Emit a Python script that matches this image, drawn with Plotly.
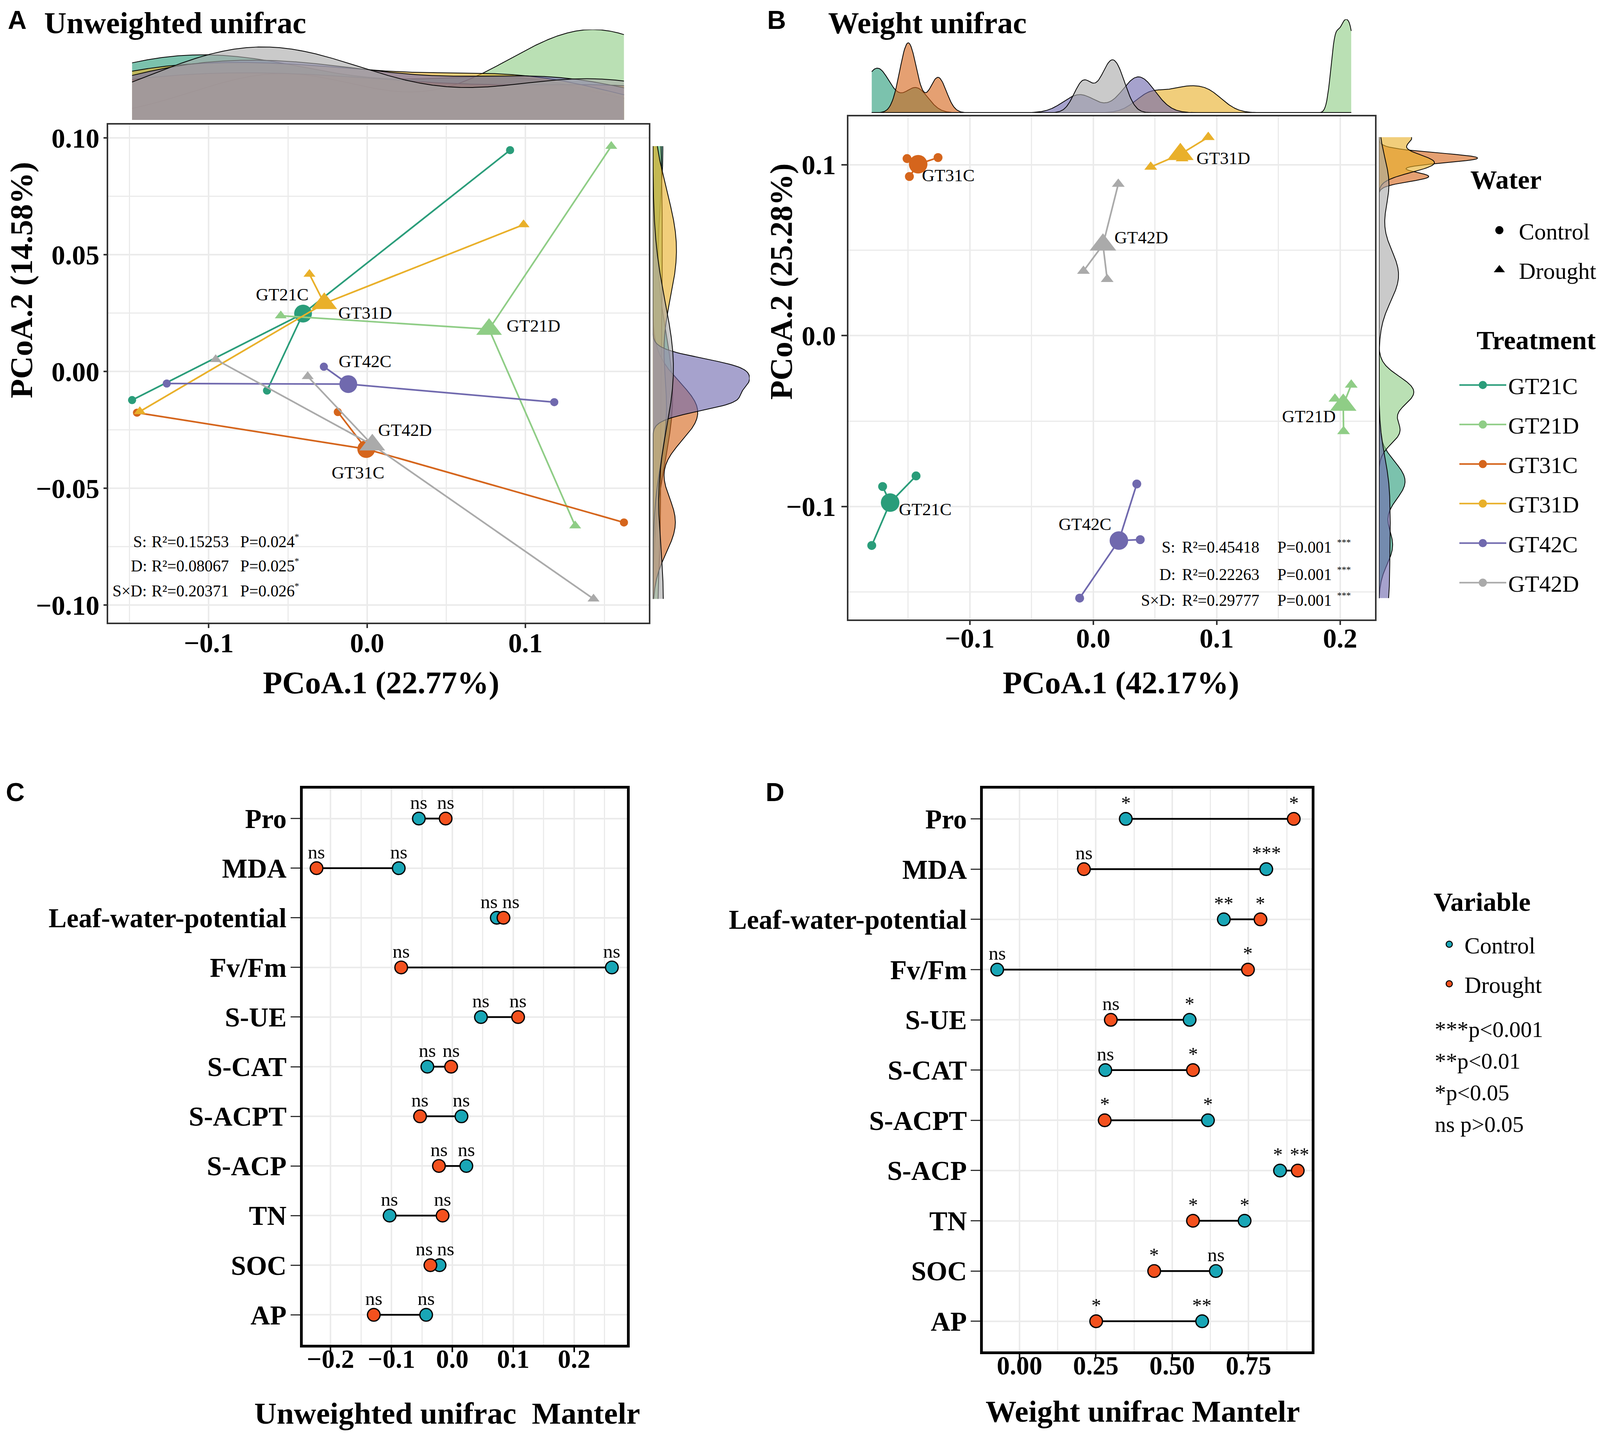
import numpy as np
import pandas as pd
import plotly.graph_objects as go

# ------------------------------------------------------------------ data
groups = ["GT21C", "GT21D", "GT31C", "GT31D", "GT42C", "GT42D"]
group_water = ["Control", "Drought", "Control", "Drought", "Control", "Drought"]
group_colors = ["#2A9D7A", "#8FCD86", "#D5651C", "#E9B02A", "#7069AE", "#AAAAAA"]

sample_group = ["GT21C", "GT21C", "GT21C", "GT21D", "GT21D", "GT21D",
                "GT31C", "GT31C", "GT31C", "GT31D", "GT31D", "GT31D",
                "GT42C", "GT42C", "GT42C", "GT42D", "GT42D", "GT42D"]

# Panel A - unweighted UniFrac PCoA sample scores
unw_pc1 = [0.0903, -0.1484, -0.0632, 0.1542, -0.0545, 0.1314,
           -0.1453, -0.0185, 0.1622, -0.0364, 0.0988, -0.1435,
           -0.0273, -0.1265, 0.1182, -0.0956, -0.0375, 0.1430]
unw_pc2 = [0.0948, -0.0122, -0.0081, 0.0965, 0.0239, -0.0660,
           -0.0176, -0.0173, -0.0646, 0.0417, 0.0629, -0.0171,
           0.0021, -0.0051, -0.0131, 0.0052, -0.0021, -0.0973]
unw_axis_var = ["22.77%", "14.58%"]
unw_terms = ["S:", "D:", "S×D:"]
unw_r2 = ["0.15253", "0.08067", "0.20371"]
unw_p = ["0.024", "0.025", "0.026"]
unw_p_sig = ["*", "*", "*"]

# Panel B - weighted UniFrac PCoA sample scores
w_pc1 = [-0.1706, -0.1435, -0.1794, 0.2090, 0.1958, 0.2028,
         -0.1508, -0.1257, -0.1489, 0.0466, 0.0932, 0.0720,
         0.0353, 0.0381, -0.0110, 0.0203, -0.0079, 0.0113]
w_pc2 = [-0.0883, -0.0821, -0.1228, -0.0288, -0.0370, -0.0560,
         0.1036, 0.1042, 0.0931, 0.0987, 0.1161, 0.1036,
         -0.0868, -0.1194, -0.1536, 0.0887, 0.0378, 0.0330]
w_axis_var = ["42.17%", "25.28%"]
w_terms = ["S:", "D:", "S×D:"]
w_r2 = ["0.45418", "0.22263", "0.29777"]
w_p = ["0.001", "0.001", "0.001"]
w_p_sig = ["***", "***", "***"]

# Panels C / D - Mantel r
mantel_vars = ["Pro", "MDA", "Leaf-water-potential", "Fv/Fm", "S-UE", "S-CAT",
               "S-ACPT", "S-ACP", "TN", "SOC", "AP"]
unw_ctrl_r = [-0.055, -0.088, 0.073, 0.262, 0.047, -0.041, 0.015, 0.023, -0.103, -0.021, -0.043]
unw_drought_r = [-0.011, -0.223, 0.084, -0.084, 0.108, -0.002, -0.053, -0.022, -0.016, -0.036, -0.129]
unw_ctrl_sig = ["ns"] * 11
unw_drought_sig = ["ns"] * 11
w_ctrl_r = [0.348, 0.808, 0.669, -0.073, 0.557, 0.281, 0.617, 0.853, 0.737, 0.643, 0.598]
w_drought_r = [0.898, 0.211, 0.789, 0.748, 0.299, 0.568, 0.279, 0.911, 0.568, 0.441, 0.251]
w_ctrl_sig = ["*", "***", "**", "ns", "*", "ns", "*", "*", "*", "ns", "**"]
w_drought_sig = ["*", "ns", "*", "*", "ns", "*", "*", "**", "*", "*", "*"]
variable_names = ["Control", "Drought"]
variable_colors = ["#19A6B6", "#F4511E"]
p_key = ["***p&lt;0.001", "**p&lt;0.01", "*p&lt;0.05", "ns p&gt;0.05"]

# ------------------------------------------------------------------ helpers
# the browser viewport is 4096 px wide; keep the whole figure inside it
W, H = 4088, 3666
SX, SY = 1568.0, 1266.0   # reference grid used for placement
FS = 0.9                  # font scale for the narrower canvas
MS = 0.95                 # marker / line scale


def px(v):
    return v / SX


def py(v):
    return 1 - v / SY


def f(s):
    return round(s * FS, 1)


SERIF = "Liberation Serif"
SANS = "Liberation Sans"


def rgba(hexc, a):
    h = hexc.lstrip("#")
    return "rgba(%d,%d,%d,%.2f)" % (int(h[0:2], 16), int(h[2:4], 16), int(h[4:6], 16), a)


def bw_nrd0(v):
    v = np.asarray(v, float)
    sd = v.std(ddof=1)
    q1, q3 = np.percentile(v, [25, 75])
    lo = min(sd, (q3 - q1) / 1.34)
    if lo <= 0:
        lo = sd if sd > 0 else 1.0
    return 0.9 * lo * len(v) ** -0.2


def kde(v, grid):
    v = np.asarray(v, float)
    bw = bw_nrd0(v)
    z = (grid[:, None] - v[None, :]) / bw
    return np.exp(-0.5 * z ** 2).sum(axis=1) / (len(v) * bw * np.sqrt(2 * np.pi))


fig = go.Figure()


def add_pcoa(pc1, pc2, ax, ay, ax_top, ay_top, ax_r, ay_r, sizes):
    df = pd.DataFrame({"group": sample_group, "pc1": pc1, "pc2": pc2})
    cen = df.groupby("group", sort=False)[["pc1", "pc2"]].mean()
    small_c, big_c, small_t, big_t = [s * MS for s in sizes]
    for g, wtr, col in zip(groups, group_water, group_colors):
        sub = df[df.group == g]
        cx, cy = cen.loc[g, "pc1"], cen.loc[g, "pc2"]
        sx, sy = [], []
        for x, y in zip(sub.pc1, sub.pc2):
            sx += [cx, x, None]
            sy += [cy, y, None]
        fig.add_trace(go.Scatter(x=sx, y=sy, mode="lines", line=dict(color=col, width=4.2),
                                 xaxis=ax, yaxis=ay, showlegend=False, hoverinfo="skip"))
        ctrl = wtr == "Control"
        sym = "circle" if ctrl else "triangle-up"
        fig.add_trace(go.Scatter(x=sub.pc1, y=sub.pc2, mode="markers",
                                 marker=dict(symbol=sym, color=col, size=small_c if ctrl else small_t, line=dict(width=0)),
                                 xaxis=ax, yaxis=ay, showlegend=False))
        fig.add_trace(go.Scatter(x=[cx], y=[cy], mode="markers",
                                 marker=dict(symbol=sym, color=col, size=big_c if ctrl else big_t, line=dict(width=0)),
                                 xaxis=ax, yaxis=ay, showlegend=False))
    gx = np.linspace(df.pc1.min(), df.pc1.max(), 512)
    gy = np.linspace(df.pc2.min(), df.pc2.max(), 512)
    mx = my = 0.0
    for g, col in zip(groups, group_colors):
        sub = df[df.group == g]
        dx = kde(sub.pc1.values, gx)
        dy = kde(sub.pc2.values, gy)
        mx, my = max(mx, dx.max()), max(my, dy.max())
        fig.add_trace(go.Scatter(x=gx, y=dx, mode="lines", fill="tozeroy", fillcolor=rgba(col, 0.62),
                                 line=dict(color="black", width=2), xaxis=ax_top, yaxis=ay_top,
                                 showlegend=False, hoverinfo="skip"))
        fig.add_trace(go.Scatter(x=dy, y=gy, mode="lines", fill="tozerox", fillcolor=rgba(col, 0.62),
                                 line=dict(color="black", width=2), xaxis=ax_r, yaxis=ay_r,
                                 showlegend=False, hoverinfo="skip"))
    return cen, mx, my


cenA, mxA, myA = add_pcoa(unw_pc1, unw_pc2, "x", "y", "x2", "y2", "x3", "y3", (22, 48, 28, 60))
cenB, mxB, myB = add_pcoa(w_pc1, w_pc2, "x4", "y4", "x5", "y5", "x6", "y6", (24, 50, 30, 62))

ann = []


def add_mantel(ctrl, drought, csig, dsig, ax, ay, xdom, xrng):
    sx, sy = [], []
    for v, c, d in zip(mantel_vars, ctrl, drought):
        sx += [c, d, None]
        sy += [v, v, None]
    fig.add_trace(go.Scatter(x=sx, y=sy, mode="lines", line=dict(color="black", width=4.5),
                             xaxis=ax, yaxis=ay, showlegend=False, hoverinfo="skip"))
    for vals, col in zip([ctrl, drought], variable_colors):
        fig.add_trace(go.Scatter(x=vals, y=mantel_vars, mode="markers",
                                 marker=dict(symbol="circle", size=34 * MS, color=col,
                                             line=dict(color="black", width=3.2)),
                                 xaxis=ax, yaxis=ay, showlegend=False))
    # significance labels above the points, pushed apart when they would collide
    ppu = (xdom[1] - xdom[0]) * W / (xrng[1] - xrng[0])
    sep = 62 * FS
    for v, c, d, cs, ds in zip(mantel_vars, ctrl, drought, csig, dsig):
        gap = abs(c - d) * ppu
        push = max(0.0, (sep - gap) / 2)
        for val, s, other in [(c, cs, d), (d, ds, c)]:
            sh = -push if val <= other else push
            ann.append(dict(x=val, y=v, xref=ax, yref=ay, text=s, showarrow=False,
                            xanchor="center", yanchor="bottom", xshift=sh, yshift=12,
                            font=dict(family=SERIF, size=f(55), color="black")))


C_xd = [px(294), px(612.5)]
D_xd = [px(962), px(1285)]
C_xr = [-0.246, 0.2867]
D_xr = [-0.12, 0.957]
add_mantel(unw_ctrl_r, unw_drought_r, unw_ctrl_sig, unw_drought_sig, "x7", "y7", C_xd, C_xr)
add_mantel(w_ctrl_r, w_drought_r, w_ctrl_sig, w_drought_sig, "x8", "y8", D_xd, D_xr)

# legend entries (marker outline in the fill colour makes the legend keys larger)
for nm, sym in zip(["Control", "Drought"], ["circle", "triangle-up"]):
    fig.add_trace(go.Scatter(x=[None], y=[None], mode="markers", name=nm, legendgroup="w" + nm,
                             marker=dict(symbol=sym, color="black", size=16, line=dict(color="black", width=5)),
                             xaxis="x4", yaxis="y4", legend="legend"))
for g, col in zip(groups, group_colors):
    fig.add_trace(go.Scatter(x=[None], y=[None], mode="lines+markers", name=g, legendgroup="t" + g,
                             line=dict(color=col, width=4),
                             marker=dict(symbol="circle", color=col, size=16, line=dict(color=col, width=5)),
                             xaxis="x4", yaxis="y4", legend="legend2"))
for nm, col in zip(variable_names, variable_colors):
    fig.add_trace(go.Scatter(x=[None], y=[None], mode="markers", name=nm, legendgroup="v" + nm,
                             marker=dict(symbol="circle", color=col, size=16, line=dict(color="black", width=2.5)),
                             xaxis="x8", yaxis="y8", legend="legend3"))

# ------------------------------------------------------------------ axes
GRID = "#EBEBEB"
tick_ab = dict(family=SERIF, size=f(78), color="black", weight="bold")


def main_axis(domain, rng, dtick, minor, fmt, anchor, lw=4, lc="#333333", ticklen=10, standoff=0):
    return dict(domain=domain, range=rng, dtick=dtick, tick0=0, tickformat=fmt, anchor=anchor,
                showgrid=True, gridcolor=GRID, gridwidth=4, zeroline=False,
                minor=dict(dtick=minor, tick0=0, showgrid=True, gridcolor=GRID, gridwidth=2.5),
                showline=True, mirror=True, linecolor=lc, linewidth=lw,
                ticks="outside", ticklen=ticklen, tickwidth=4, tickcolor="#333333",
                ticklabelstandoff=standoff, tickfont=tick_ab)


hidden = dict(visible=False, showgrid=False, zeroline=False)

A_xd = [px(103), px(634)]
A_yd = [py(547), py(106)]
B_xd = [px(830), px(1347)]
B_yd = [py(544), py(99)]

layout_axes = dict(
    xaxis=main_axis(A_xd, [-0.1636, 0.1779], 0.1, 0.05, ".1f", "y", standoff=-22),
    yaxis=main_axis(A_yd, [-0.1075, 0.1058], 0.05, 0.025, ".2f", "x", ticklen=8, standoff=-4),
    xaxis2=dict(hidden, domain=A_xd, matches="x", anchor="y2"),
    yaxis2=dict(hidden, domain=[py(102), py(22)], range=[0, mxA], anchor="x2"),
    xaxis3=dict(hidden, domain=[px(638), px(733)], range=[0, myA], anchor="y3"),
    yaxis3=dict(hidden, domain=A_yd, matches="y", anchor="x3"),
    xaxis4=main_axis(B_xd, [-0.1983, 0.2282], 0.1, 0.05, ".1f", "y4", standoff=-26),
    yaxis4=main_axis(B_yd, [-0.166, 0.1282], 0.1, 0.05, ".1f", "x4", ticklen=14),
    xaxis5=dict(hidden, domain=B_xd, matches="x4", anchor="y5"),
    yaxis5=dict(hidden, domain=[py(95.6), py(13)], range=[0, mxB], anchor="x5"),
    xaxis6=dict(hidden, domain=[px(1351), px(1448)], range=[0, myB], anchor="y6"),
    yaxis6=dict(hidden, domain=B_yd, matches="y4", anchor="x6"),
)

tick_cd_x = dict(family=SERIF, size=f(74), color="black", weight="bold")
tick_cd_y = dict(family=SERIF, size=f(77), color="black", weight="bold")


def mantel_x(domain, rng, dtick, minor, fmt, anchor):
    d = main_axis(domain, rng, dtick, minor, fmt, anchor, lw=7, lc="black", ticklen=12, standoff=-40)
    d.update(tickfont=tick_cd_x, tickcolor="black")
    return d


def mantel_y(domain, anchor):
    return dict(domain=domain, type="category", categoryorder="array", categoryarray=mantel_vars,
                range=[10.6, -0.6], anchor=anchor, showgrid=True, gridcolor=GRID, gridwidth=4,
                showline=True, mirror=True, linecolor="black", linewidth=7, zeroline=False,
                ticks="outside", ticklen=24, tickwidth=3, tickcolor="#333333",
                ticklabelstandoff=-4, tickfont=tick_cd_y)


layout_axes.update(
    xaxis7=mantel_x(C_xd, C_xr, 0.1, 0.05, ".1f", "y7"),
    yaxis7=mantel_y([py(1186), py(694)], "x7"),
    xaxis8=mantel_x(D_xd, D_xr, 0.25, 0.125, ".2f", "y8"),
    yaxis8=mantel_y([py(1192), py(694)], "x8"),
)

# ------------------------------------------------------------------ annotations


def text(x, y, t, size, family=SERIF, bold=False, xanchor="center", yanchor="middle", angle=0, **kw):
    a = dict(x=x, y=y, xref="paper", yref="paper", text=t, showarrow=False, xanchor=xanchor,
             yanchor=yanchor, textangle=angle,
             font=dict(family=family, size=f(size), color="black", weight="bold" if bold else "normal"))
    a.update(kw)
    ann.append(a)


# panel letters and titles (kept just inside the top edge)
text(px(4), 1.0, "A", 74, SANS, True, xanchor="left", yanchor="top")
text(px(39.5), 1.0, "Unweighted unifrac", 88, SERIF, True, xanchor="left", yanchor="top")
text(px(749.5), 1.0, "B", 74, SANS, True, xanchor="left", yanchor="top")
text(px(809.5), 1.0, "Weight unifrac", 88, SERIF, True, xanchor="left", yanchor="top")
text(px(2), py(697), "C", 74, SANS, True, xanchor="left")
text(px(748), py(697), "D", 74, SANS, True, xanchor="left")

# axis titles
text(px(371), py(600), "PCoA.1 (%s)" % unw_axis_var[0], 90, SERIF, True)
text(0.0, py(244), "PCoA.2 (%s)" % unw_axis_var[1], 90, SERIF, True, xanchor="left", angle=-90)
text(px(1097.6), py(600), "PCoA.1 (%s)" % w_axis_var[0], 90, SERIF, True)
text(px(764), py(245), "PCoA.2 (%s)" % w_axis_var[1], 90, SERIF, True, angle=-90)
text(px(436), py(1246.5), "Unweighted unifrac\u00a0 Mantelr", 88, SERIF, True)
text(px(1119), py(1245), "Weight unifrac Mantelr", 88, SERIF, True)

# group labels beside centroids
offA = {"GT21C": (-59, 49), "GT21D": (126, 9), "GT31C": (-23, -60),
        "GT31D": (116, -24), "GT42C": (48, 58), "GT42D": (93, 38)}
offB = {"GT21C": (100, -17), "GT21D": (-98, -29), "GT31C": (86, -29),
        "GT31D": (122, -10), "GT42C": (-96, 42), "GT42D": (109, 19)}
for cen, off, xr, yr in [(cenA, offA, "x", "y"), (cenB, offB, "x4", "y4")]:
    for g in groups:
        ann.append(dict(x=cen.loc[g, "pc1"], y=cen.loc[g, "pc2"], xref=xr, yref=yr, text=g,
                        showarrow=False, xshift=off[g][0] * 0.9, yshift=off[g][1],
                        font=dict(family=SERIF, size=f(50), color="black")))

# PERMANOVA statistics (superscripts as Unicode / small raised text)
for i, yv in enumerate([475.5, 496.7, 519]):
    text(px(142), py(yv), unw_terms[i], 46, xanchor="right")
    text(px(145), py(yv), "R\u00b2=%s" % unw_r2[i], 46, xanchor="left")
    text(px(232), py(yv), "P=%s" % unw_p[i], 46, xanchor="left")
    text(px(285.5), py(yv), unw_p_sig[i], 26, xanchor="left", yshift=13)
for i, yv in enumerate([480.3, 504.3, 527.2]):
    text(px(1152), py(yv), w_terms[i], 46, xanchor="right")
    text(px(1157), py(yv), "R\u00b2=%s" % w_r2[i], 46, xanchor="left")
    text(px(1250.6), py(yv), "P=%s" % w_p[i], 46, xanchor="left")
    text(px(1309), py(yv), w_p_sig[i], 26, xanchor="left", yshift=13)

# legend titles and p-value key
text(px(1440), py(155), "Water", 76, SERIF, True, xanchor="left")
text(px(1446), py(297), "Treatment", 76, SERIF, True, xanchor="left")
text(px(1404), py(794), "Variable", 76, SERIF, True, xanchor="left")
for lab, yv in zip(p_key, [907, 935, 963, 991]):
    text(px(1405), py(yv), lab, 64, xanchor="left")

leg_common = dict(bgcolor="rgba(0,0,0,0)", font=dict(family=SERIF, size=f(66), color="black"),
                  xanchor="left", yanchor="top", itemsizing="trace", tracegroupgap=21)
fig.update_layout(
    width=W, height=H, margin=dict(l=0, r=0, t=0, b=0),
    paper_bgcolor="white", plot_bgcolor="white",
    font=dict(family=SERIF, color="black"),
    annotations=ann,
    legend=dict(leg_common, x=px(1450), y=py(184), itemwidth=90),
    legend2=dict(leg_common, x=px(1428), y=py(321), itemwidth=120),
    legend3=dict(leg_common, x=px(1405), y=py(816), itemwidth=68),
    **layout_axes,
)

fig.write_html("out.html")
